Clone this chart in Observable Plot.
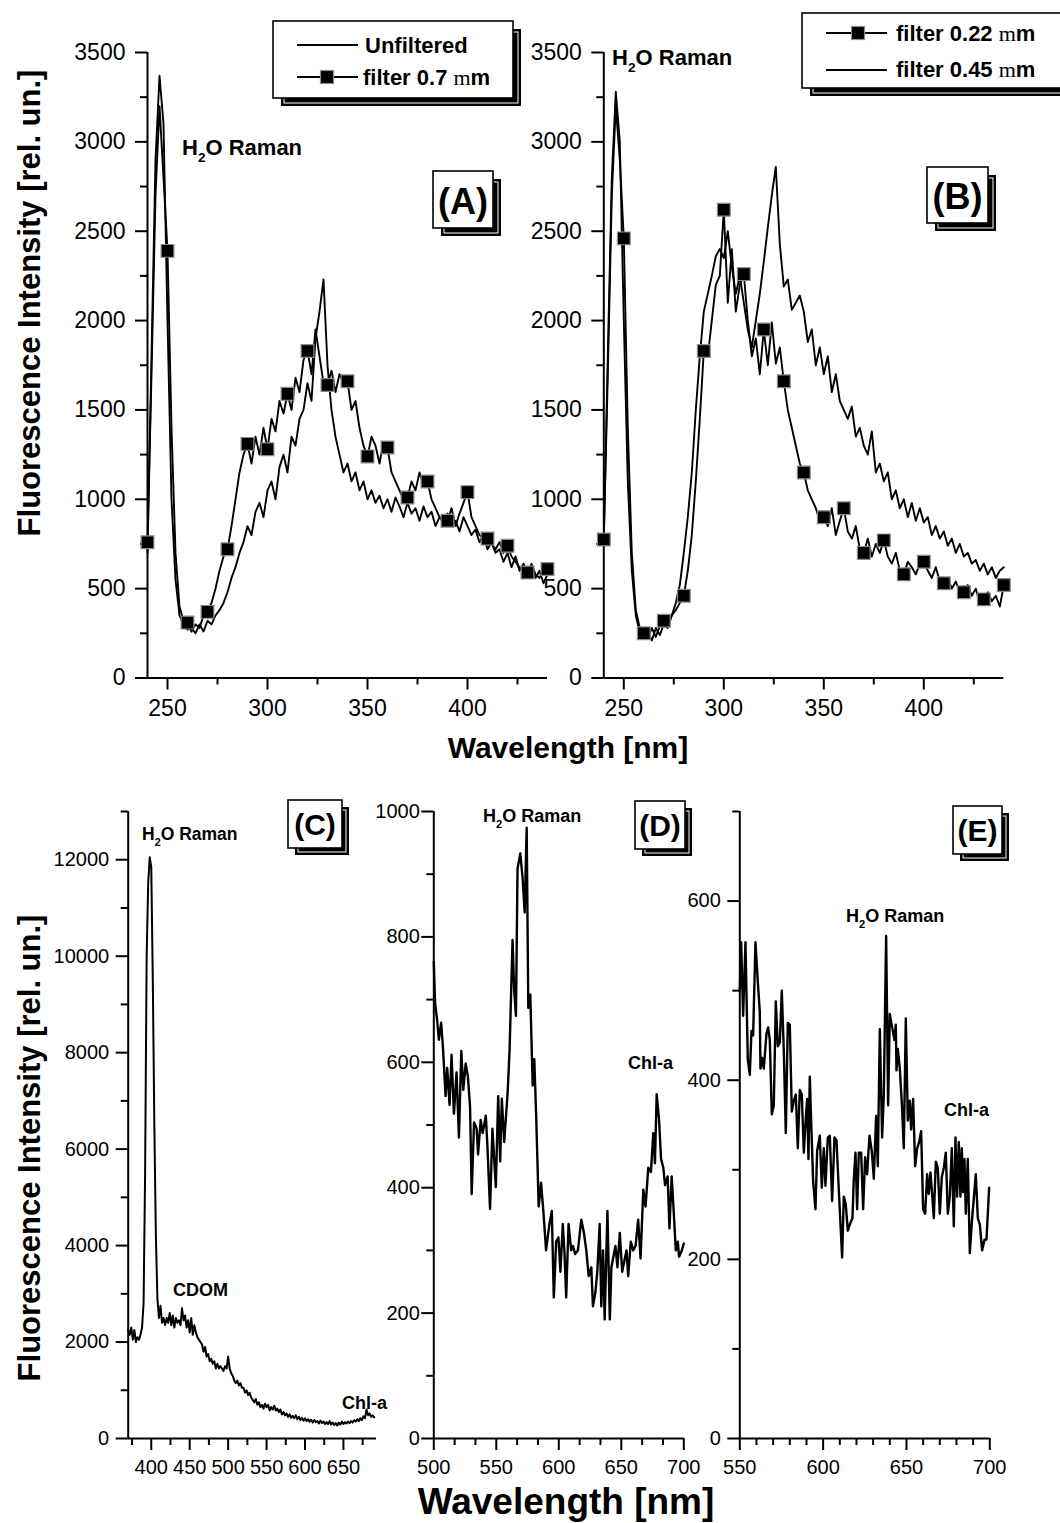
<!DOCTYPE html>
<html><head><meta charset="utf-8">
<script src="https://cdn.jsdelivr.net/npm/d3@7"></script>
<script src="https://cdn.jsdelivr.net/npm/@observablehq/plot@0.6"></script>
<style>
body{margin:0;background:#fff;}
#wrap{position:relative;width:1060px;height:1523px;overflow:hidden;background:#fff;}
#wrap svg{position:absolute;left:0;top:0;}
</style></head><body><div id="wrap"></div>
<script>
// ---------- DATA ----------
// Panels A and B: excitation wavelength grid (nm)
const wlAB = [240,242,244,246,248,250,252,254,256,258,
260,262,264,266,268,270,272,274,276,278,
280,282,284,286,288,290,292,294,296,298,
300,302,304,306,308,310,312,314,316,318,
320,322,324,326,328,330,332,334,336,338,
340,342,344,346,348,350,352,354,356,358,
360,362,364,366,368,370,372,374,376,378,
380,382,384,386,388,390,392,394,396,398,
400,402,404,406,408,410,412,414,416,418,
420,422,424,426,428,430,432,434,436,438,
440];
// (A) Unfiltered
const aUnfiltered = [700,1800,2900,3370,3100,2000,1000,550,350,300,
270,280,250,300,260,320,300,350,380,420,
480,560,620,700,760,850,800,930,980,900,
1050,1100,1000,1180,1250,1150,1350,1300,1450,1500,
1650,1550,1900,2050,2230,1750,1500,1350,1250,1150,
1200,1100,1150,1050,1100,1000,1050,980,1020,950,
1000,930,1010,960,900,980,920,950,880,960,
900,930,850,900,870,920,850,880,820,900,
850,800,830,760,800,720,760,700,720,650,
700,620,680,600,640,580,620,560,600,530,
580];
// (A) filter 0.7 um
const aFilter07 = [760,1700,2700,3200,2800,2390,1400,700,400,320,
310,260,300,280,350,370,420,500,600,680,
720,850,1000,1150,1250,1310,1200,1350,1250,1400,
1280,1450,1380,1550,1480,1590,1500,1680,1600,1780,
1830,1700,1950,1800,1650,1640,1720,1600,1700,1650,
1660,1500,1550,1400,1300,1240,1350,1300,1200,1320,
1290,1150,1100,1050,1000,1010,1100,1050,1150,1080,
1100,1000,950,900,870,880,950,850,920,980,
1040,900,850,800,780,780,750,720,760,700,
740,680,650,620,600,590,640,580,560,600,
610];
// (B) filter 0.22 um
const bFilter022 = [775,1700,2700,3200,2900,2460,1400,700,380,280,
250,220,280,230,290,320,300,350,380,420,
460,600,800,1100,1450,1830,1800,2000,2200,2250,
2620,2100,2400,2050,2200,2260,2000,1800,1900,1700,
1950,1750,1990,1760,1850,1660,1500,1400,1300,1200,
1150,1050,1000,950,880,900,850,950,800,880,
950,820,780,850,720,700,780,680,750,700,
770,680,640,700,600,580,650,620,580,640,
650,600,560,620,540,530,560,500,540,480,
480,520,460,500,420,440,480,430,460,400,
520];
// (B) filter 0.45 um
const bFilter045 = [780,1800,2800,3280,3000,2000,1100,600,350,250,
230,260,210,280,240,300,280,350,420,520,
700,900,1150,1500,1800,2050,2150,2250,2360,2400,
2350,2500,2300,2150,2250,2100,1950,1850,2000,2150,
2330,2520,2700,2860,2430,2190,2230,2060,2100,2140,
2050,1880,1950,1750,1850,1700,1800,1600,1700,1550,
1500,1450,1520,1350,1400,1300,1250,1380,1150,1200,
1100,1150,1000,1050,950,1000,900,980,880,950,
870,900,800,850,780,820,740,780,700,750,
680,700,640,660,600,640,580,620,560,600,
620];
// (C) [wavelength nm, intensity]
const specC = [[370,2250],[372,2150],[374,2300],[376,2050],[378,2250],[380,2000],[382,2100],[384,2050],[386,2150],[388,2300],
[390,2800],[392,5500],[394,10000],[396,11500],[398,12050],[400,11850],[402,9500],[404,6500],[406,4200],[408,2900],
[410,2500],[412,2750],[414,2400],[416,2500],[418,2350],[420,2500],[422,2400],[424,2600],[426,2350],[428,2550],
[430,2300],[432,2500],[434,2400],[436,2450],[438,2350],[440,2700],[442,2450],[444,2550],[446,2300],[448,2450],
[450,2200],[452,2500],[454,2150],[456,2350],[458,2200],[460,2100],[462,2050],[464,2000],[466,1950],[468,1800],
[470,1900],[472,1700],[474,1750],[476,1600],[478,1650],[480,1550],[482,1600],[484,1450],[486,1550],[488,1450],
[490,1500],[492,1450],[494,1400],[496,1500],[498,1450],[500,1700],[502,1450],[504,1350],[506,1300],[508,1200],
[510,1150],[512,1200],[514,1100],[516,1150],[518,1050],[520,1050],[522,950],[524,1000],[526,900],[528,950],
[530,850],[532,800],[534,750],[536,820],[538,700],[540,750],[542,650],[544,700],[546,620],[548,720],
[550,650],[552,700],[554,580],[556,650],[558,600],[560,680],[562,580],[564,620],[566,550],[568,600],
[570,500],[572,550],[574,480],[576,520],[578,450],[580,500],[582,430],[584,470],[586,420],[588,480],
[590,400],[592,450],[594,380],[596,430],[598,370],[600,420],[602,360],[604,400],[606,350],[608,390],
[610,330],[612,380],[614,340],[616,360],[618,310],[620,370],[622,320],[624,350],[626,300],[628,340],
[630,300],[632,360],[634,290],[636,330],[638,280],[640,320],[642,270],[644,330],[646,290],[648,350],
[650,300],[652,340],[654,310],[656,350],[658,320],[660,360],[662,330],[664,380],[666,350],[668,400],
[670,360],[672,420],[674,380],[676,460],[678,420],[680,600],[682,480],[684,520],[686,450],[688,480],[690,440]];
// (D) [wavelength nm, intensity]
const specD = [[500,760],[501,695],[502.7,667],[504,636],[505.9,663],[507.5,618],[509.4,546],[510.7,591],[512.6,532],[514.2,612],
[516.1,518],[518.2,584],[520.1,480],[522,618],[523.6,556],[525.5,598],[527.3,577],[529,529],[530.3,390],[532.2,504],
[534.3,494],[535.4,453],[537.5,508],[539.1,487],[541.6,515],[542.9,466],[545,366],[546.9,494],[549.6,401],[551.5,546],
[553.1,442],[554.4,542],[556.3,473],[559,549],[560.6,618],[563,795],[564.3,715],[565.7,674],[567,909],[569.2,933],
[571,895],[572.7,839],[574.3,974],[575.6,687],[577.2,708],[579.1,563],[580.4,605],[582,508],[583.9,370],[585.8,408],
[587.9,356],[589.8,300],[592.5,342],[594.4,363],[596,225],[597.9,314],[599.7,321],[601.3,266],[603.2,342],[604.6,294],
[605.9,225],[607.8,342],[609.9,300],[611.3,307],[613.1,294],[615.3,300],[618,349],[620.1,328],[622,300],[623.9,259],
[626,273],[627.3,211],[629.2,232],[630.8,266],[632.7,342],[634,211],[635.4,300],[636.7,190],[638.9,363],[640.8,190],
[642.1,273],[643.4,287],[645.3,307],[646.9,273],[648.8,328],[650.7,266],[652.8,287],[654.2,300],[655.5,259],[657.6,314],
[659.5,300],[661.4,307],[663.5,349],[665.4,287],[667.6,397],[669.4,370],[671.6,432],[673.7,425],[675.6,487],[676.9,439],
[678.3,549],[680.2,508],[681.8,446],[683.6,432],[685,404],[687.1,418],[688.5,335],[690.3,418],[691.7,370],[693.6,300],
[695.2,314],[696.2,290],[698.4,300],[700,311]];
// (E) [wavelength nm, intensity]
const specE = [[550,500],[550.8,554],[552,472],[553.4,554],[554.8,423],[556,406],[557,455],[558,450],[559.4,554],[560.8,510],
[562,476],[562.4,413],[563.4,425],[564.4,413],[566,452],[567,459],[568,445],[569.2,362],[570.4,372],[571.6,488],
[572.8,438],[574,442],[575.2,500],[576.4,433],[577.6,341],[578.8,464],[580,462],[581.2,365],[582.4,377],[583.6,384],
[584.8,324],[586,389],[587.2,384],[588.4,319],[589.6,358],[590.4,379],[591.2,312],[592,404],[592.8,355],[594,287],
[595.4,256],[596.4,321],[598,338],[599.2,280],[600.4,324],[601.4,282],[602.8,336],[604,338],[605.4,265],[606.8,336],
[608,333],[609.6,270],[611.4,202],[612.4,270],[613.6,261],[614.8,232],[616.4,241],[617.6,246],[618.4,290],[619.4,319],
[620.4,256],[621.4,319],[622.8,319],[624,256],[625.2,314],[626.4,295],[627.8,338],[629.2,321],[630.4,290],[631.8,360],
[632.8,304],[634,457],[635.4,336],[636.4,384],[637.8,561],[639,372],[640,474],[641.4,459],[642.8,445],[643.6,462],
[644,411],[644.8,435],[646,413],[647.2,375],[648.4,324],[649.6,469],[650.8,355],[652,377],[652.8,345],[654,379],
[655.2,304],[656.4,324],[657.6,331],[658.8,343],[660,256],[661.2,251],[662.4,295],[663.4,273],[664.4,297],[665.4,273],
[666.4,246],[667.6,309],[668.8,302],[670,251],[671.2,292],[672.4,302],[673.6,319],[674.8,251],[676,270],[677.2,324],
[678.4,237],[679.4,336],[680.4,270],[681.4,331],[682.4,270],[683.2,324],[684,275],[684.8,312],[685.6,251],[686.8,312],
[688,207],[689.2,241],[690.4,268],[691.6,295],[692.8,246],[694,239],[695.4,210],[696.8,222],[698,222],[699.6,280]];

// tick values
const ticksABx = [250,300,350,400], minorABx = [275,325,375,425];
const ticksABy = [0,500,1000,1500,2000,2500,3000,3500], minorABy = [250,750,1250,1750,2250,2750,3250];
const ticksCx = [400,450,500,550,600,650], minorCx = [375,425,475,525,575,625,675];
const ticksCy = [0,2000,4000,6000,8000,10000,12000], minorCy = [1000,3000,5000,7000,9000,11000,13000];
const ticksDx = [500,550,600,650,700], minorDx = [516.67,533.33,566.67,583.33,616.67,633.33,666.67,683.33];
const ticksDy = [0,200,400,600,800,1000], minorDy = [100,300,500,700,900];
const ticksEx = [550,600,650,700], minorEx = [560,570,580,590,610,620,630,640,660,670,680,690];
const ticksEy = [0,200,400,600], minorEy = [100,300,500,700];

// ---------- DRAW ----------
const FONT = '"Liberation Sans", Arial, Helvetica, sans-serif';
const W = 1060, H = 1523;
const wrap = document.getElementById("wrap");
const rows = (xs, ys) => xs.map((wl, i) => ({wl, v: ys[i]}));
const pairs = arr => arr.map(([wl, v]) => ({wl, v}));
const fmt = d => String(d);
const noLabel = () => "";

function panel(o) {
  const marks = [
    Plot.axisX(o.xMajor, {tickSize: 12, tickPadding: o.xPad, fontSize: o.fs, tickFormat: fmt, label: null, strokeWidth: 2}),
    Plot.axisX(o.xMinor, {tickSize: 7, tickFormat: noLabel, label: null, strokeWidth: 2}),
    Plot.axisY(o.yMajor, {tickSize: 12, tickPadding: o.yPad, fontSize: o.fs, tickFormat: fmt, label: null, strokeWidth: 2}),
    Plot.axisY(o.yMinor, {tickSize: 7, tickFormat: noLabel, label: null, strokeWidth: 2}),
    Plot.ruleY([o.yDomain[0]], {stroke: "black", strokeWidth: 2}),
    Plot.ruleX([o.xDomain[0]], {stroke: "black", strokeWidth: 2}),
    ...o.marks
  ];
  const p = Plot.plot({
    width: W, height: H,
    marginLeft: o.frame[0], marginRight: W - o.frame[1], marginTop: o.frame[2], marginBottom: H - o.frame[3],
    x: {domain: o.xDomain}, y: {domain: o.yDomain},
    style: {background: "transparent", fontFamily: FONT, color: "black", overflow: "visible"},
    marks
  });
  wrap.appendChild(p);
  return p;
}
const sq = {symbol: "square", r: 7.2, fill: "#000", stroke: "#8a8a8a", strokeWidth: 1.2};
const aU = rows(wlAB, aUnfiltered), aF = rows(wlAB, aFilter07);
const b22 = rows(wlAB, bFilter022), b45 = rows(wlAB, bFilter045);

const pA = panel({frame: [147, 547, 52, 677.5], xDomain: [240, 440], yDomain: [0, 3500],
  xMajor: ticksABx, xMinor: minorABx, yMajor: ticksABy, yMinor: minorABy, fs: 23, xPad: 10, yPad: 10,
  marks: [
    Plot.line(aU, {x: "wl", y: "v", stroke: "black", strokeWidth: 1.9}),
    Plot.line(aF, {x: "wl", y: "v", stroke: "black", strokeWidth: 1.9}),
    Plot.dot(aF.filter(d => d.wl % 10 === 0), {x: "wl", y: "v", ...sq})
  ]});
const pB = panel({frame: [603.3, 1003.3, 52, 677.5], xDomain: [240, 440], yDomain: [0, 3500],
  xMajor: ticksABx, xMinor: minorABx, yMajor: ticksABy, yMinor: minorABy, fs: 23, xPad: 10, yPad: 10,
  marks: [
    Plot.line(b45, {x: "wl", y: "v", stroke: "black", strokeWidth: 1.9}),
    Plot.line(b22, {x: "wl", y: "v", stroke: "black", strokeWidth: 1.9}),
    Plot.dot(b22.filter(d => d.wl % 10 === 0), {x: "wl", y: "v", ...sq})
  ]});
const pC = panel({frame: [127.7, 376, 811, 1438], xDomain: [370, 693], yDomain: [0, 13000],
  xMajor: ticksCx, xMinor: minorCx, yMajor: ticksCy, yMinor: minorCy, fs: 20, xPad: 9, yPad: 7,
  marks: [Plot.line(pairs(specC), {x: "wl", y: "v", stroke: "black", strokeWidth: 2})]});
const pD = panel({frame: [433.3, 683.3, 811, 1438], xDomain: [500, 700], yDomain: [0, 1000],
  xMajor: ticksDx, xMinor: minorDx, yMajor: ticksDy, yMinor: minorDy, fs: 20, xPad: 9, yPad: 2,
  marks: [Plot.line(pairs(specD), {x: "wl", y: "v", stroke: "black", strokeWidth: 2.4})]});
const pE = panel({frame: [739.3, 989.3, 811, 1438], xDomain: [550, 700], yDomain: [0, 700],
  xMajor: ticksEx, xMinor: minorEx, yMajor: ticksEy, yMinor: minorEy, fs: 20, xPad: 9, yPad: 7,
  marks: [Plot.line(pairs(specE), {x: "wl", y: "v", stroke: "black", strokeWidth: 2.4})]});

// ---------- OVERLAY (titles, legends, labels) ----------
const ov = d3.create("svg").attr("width", W).attr("height", H).attr("font-family", FONT);
wrap.appendChild(ov.node());

function shadowBox(x, y, w, h, off) {
  ov.append("rect").attr("x", x + off).attr("y", y + off).attr("width", w).attr("height", h).attr("fill", "black");
  ov.append("rect").attr("x", x + off + 3).attr("y", y + off + 3).attr("width", w - 6).attr("height", h - 6)
    .attr("fill", "none").attr("stroke", "white").attr("stroke-width", 1);
  ov.append("rect").attr("x", x).attr("y", y).attr("width", w).attr("height", h)
    .attr("fill", "white").attr("stroke", "black").attr("stroke-width", 1.6);
}
function letterBox(x, y, w, h, off, label, size, base) {
  shadowBox(x, y, w, h, off);
  ov.append("text").attr("x", x + w / 2).attr("y", base).attr("text-anchor", "middle")
    .attr("font-weight", "bold").attr("font-size", size).text(label);
}
function legendRow(x1, x2, y, marker, textX, base, parts) {
  ov.append("line").attr("x1", x1).attr("x2", x2).attr("y1", y).attr("y2", y).attr("stroke", "black").attr("stroke-width", 2);
  if (marker != null) ov.append("rect").attr("x", marker - 6.5).attr("y", y - 6.5).attr("width", 13).attr("height", 13)
    .attr("fill", "black").attr("stroke", "#8a8a8a").attr("stroke-width", 1.2);
  const t = ov.append("text").attr("x", textX).attr("y", base).attr("font-size", 22).attr("font-weight", "bold");
  parts.forEach(([s, serif]) => {
    const ts = t.append("tspan").text(s);
    if (serif) ts.attr("font-family", '"Liberation Serif", "Times New Roman", serif').attr("font-weight", "normal");
  });
}
// legend A
shadowBox(273, 21, 240, 77, 8);
legendRow(297, 358, 45, null, 365, 53, [["Unfiltered"]]);
legendRow(297, 358, 77, 327, 363, 85, [["filter 0.7 "], ["m", true], ["m"]]);
// legend B
shadowBox(802, 13, 272, 75, 8);
legendRow(826, 887, 33, 858, 896, 41, [["filter 0.22 "], ["m", true], ["m"]]);
legendRow(826, 887, 70, null, 896, 77, [["filter 0.45 "], ["m", true], ["m"]]);

// panel letters
letterBox(433, 171, 60, 57, 8, "(A)", 36, 214);
letterBox(927, 167, 61, 56, 8, "(B)", 36, 209);
letterBox(288, 800, 54, 48, 7, "(C)", 30, 835);
letterBox(635, 801, 50, 48, 7, "(D)", 30, 836);
letterBox(953, 806, 49, 48, 7, "(E)", 30, 841);

// axis titles
function title(x, y, size, rot, text) {
  ov.append("text").attr("transform", `translate(${x},${y}) rotate(${rot})`).attr("text-anchor", "middle")
    .attr("font-weight", "bold").attr("font-size", size).text(text);
}
title(40, 303, 31, -90, "Fluorescence Intensity [rel. un.]");
title(40, 1148, 31, -90, "Fluorescence Intensity [rel. un.]");
title(568, 758, 30, 0, "Wavelength [nm]");
title(566, 1514, 37, 0, "Wavelength [nm]");

// annotations placed through each panel's scales
function note(p, xv, yv, size, kind) {
  const x = p.scale("x").apply(xv), y = p.scale("y").apply(yv);
  const t = ov.append("text").attr("x", x).attr("y", y).attr("font-size", size).attr("font-weight", "bold");
  if (kind === "h2o") {
    t.append("tspan").text("H");
    t.append("tspan").attr("font-size", size * 0.62).attr("dy", size * 0.32).text("2");
    t.append("tspan").attr("dy", -size * 0.32).text("O Raman");
  } else t.text(kind);
}
note(pA, 257.5, 2924, 22, "h2o");
note(pB, 244.4, 3427, 22, "h2o");
note(pC, 388.6, 12399, 17.5, "h2o");
note(pC, 428.9, 2944, 18, "CDOM");
note(pC, 648.8, 601, 18, "Chl-a");
note(pD, 539.8, 982, 18, "h2o");
note(pD, 655.8, 588, 18, "Chl-a");
note(pE, 614, 576, 18, "h2o");
note(pE, 672.8, 359, 18, "Chl-a");
</script></body></html>
